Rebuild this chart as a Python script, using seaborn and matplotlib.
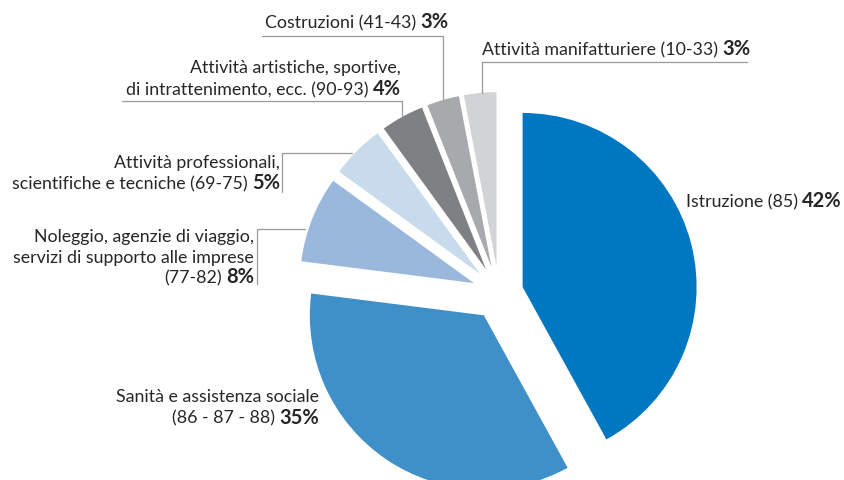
import matplotlib
matplotlib.use("Agg")
import matplotlib.pyplot as plt
from matplotlib.lines import Line2D
import seaborn as sns

# ---- data ----
labels = [
    ["Istruzione (85)"],
    ["Sanità e assistenza sociale", "(86 - 87 - 88)"],
    ["Noleggio, agenzie di viaggio,", "servizi di supporto alle imprese", "(77-82)"],
    ["Attività professionali,", "scientifiche e tecniche (69-75)"],
    ["Attività artistiche, sportive,", "di intrattenimento, ecc. (90-93)"],
    ["Costruzioni (41-43)"],
    ["Attività manifatturiere (10-33)"],
]
values = [42, 35, 8, 5, 4, 3, 3]
colors = ["#0078C1", "#3F8FC8", "#99B8DB", "#C8DBEC", "#7E8084", "#A7A9AC", "#D1D3D4"]

sns.set_theme(style="white")
plt.rcParams["font.family"] = ["Lato", "DejaVu Sans"]

W, H = 844, 480
fig = plt.figure(figsize=(W / 100, H / 100), dpi=100)
ax = fig.add_axes([0, 0, 1, 1])

R = 174.0
cx, cy = 499.0, 293.0
ax.pie(values, colors=colors, startangle=90, counterclock=False,
       explode=[0.14, 0.155, 0.155, 0.155, 0.155, 0.155, 0.155], radius=1,
       wedgeprops=dict(linewidth=0))
ax.set_xlim(-cx / R, (W - cx) / R)
ax.set_ylim(-(H - cy) / R, cy / R)
ax.set_aspect("auto")
ax.axis("off")

def fx(x):
    return x / W

def fy(y):
    return 1 - y / H

FS = 12.8
FSB = 14.5
TXT = "#262626"
LC = "#9A9A9A"

# label layout: (anchor x, first baseline y, align, line spacing)
layout = [
    (686, 207, "left", 21),
    (319, 402, "right", 21.5),
    (254, 242, "right", 20.7),
    (280, 168, "right", 21),
    (401, 73, "right", 22),
    (448, 28, "right", 21),
    (482, 55, "left", 21),
]

fig.canvas.draw()
renderer = fig.canvas.get_renderer()

def width_px(t):
    return t.get_window_extent(renderer=renderer).width

for lines, v, (x, y, al, sp) in zip(labels, values, layout):
    for i, ln in enumerate(lines):
        yy = y + i * sp
        last = i == len(lines) - 1
        if not last:
            fig.text(fx(x), fy(yy), ln, ha=al, va="baseline", fontsize=FS, color=TXT)
            continue
        pct = f"{v}%"
        if al == "right":
            b = fig.text(fx(x), fy(yy), pct, ha="right", va="baseline",
                         fontsize=FSB, fontweight="bold", color=TXT)
            wb = width_px(b)
            fig.text(fx(x - wb - 4), fy(yy), ln, ha="right", va="baseline",
                     fontsize=FS, color=TXT)
        else:
            t = fig.text(fx(x), fy(yy), ln, ha="left", va="baseline",
                         fontsize=FS, color=TXT)
            wt = width_px(t)
            fig.text(fx(x + wt + 4), fy(yy), pct, ha="left", va="baseline",
                     fontsize=FSB, fontweight="bold", color=TXT)

# leader lines (pixel coordinates)
segments = [
    [(262, 36), (443, 36), (443, 100)],
    [(747, 62), (482, 62), (482, 93)],
    [(122, 101), (402, 101), (402, 117)],
    [(282, 192), (282, 153), (352, 153)],
    [(257, 284), (257, 229), (305, 229)],
]
for seg in segments:
    xs = [fx(p[0]) for p in seg]
    ys = [fy(p[1]) for p in seg]
    fig.add_artist(Line2D(xs, ys, color=LC, linewidth=0.9, transform=fig.transFigure))

fig.savefig("out.png", dpi=100)
